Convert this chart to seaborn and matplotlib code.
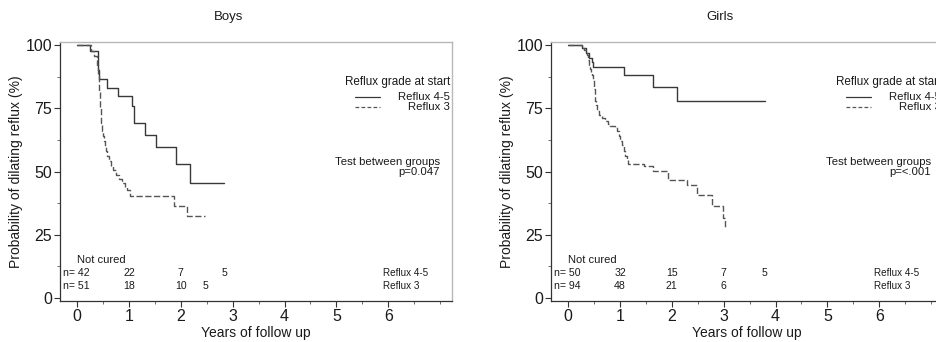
import numpy as np
import pandas as pd
import matplotlib
matplotlib.use("Agg")
import matplotlib.pyplot as plt
from matplotlib.ticker import MultipleLocator
import seaborn as sns

# ---------------- data ----------------
panels = ["Boys", "Girls"]
groups = ["Reflux 4-5", "Reflux 3"]

boys_45_t = [0, 0.24, 0.40, 0.42, 0.57, 0.79, 1.05, 1.09, 1.30, 1.53, 1.91, 2.18, 2.84]
boys_45_s = [100, 97.6, 90.0, 86.4, 83.1, 79.8, 75.9, 69.0, 64.6, 59.6, 52.8, 45.3, 45.3]
boys_3_t = [0, 0.27, 0.33, 0.38, 0.41, 0.42, 0.43, 0.44, 0.45, 0.46, 0.47, 0.48, 0.50,
            0.51, 0.53, 0.55, 0.58, 0.62, 0.66, 0.70, 0.75, 0.80, 0.86, 0.92, 0.97,
            1.02, 1.86, 2.11, 2.47]
boys_3_s = [100, 97.8, 95.8, 92, 88, 86, 82, 78, 75, 72, 69, 66, 64,
            62, 60, 58, 56, 54, 52, 50.5, 48.6, 47, 45.3, 44, 42.7,
            40.3, 36.4, 32.4, 32.4]

girls_45_t = [0, 0.27, 0.35, 0.41, 0.46, 0.48, 1.08, 1.63, 2.10, 3.80]
girls_45_s = [100, 98.9, 96.7, 94.7, 93.1, 91.2, 88.3, 83.4, 77.9, 77.9]
girls_3_t = [0, 0.27, 0.31, 0.34, 0.36, 0.38, 0.40, 0.42, 0.44, 0.46, 0.48, 0.49, 0.50,
             0.51, 0.52, 0.53, 0.55, 0.60, 0.65, 0.71, 0.76, 0.81, 0.90, 0.95, 0.98,
             1.00, 1.03, 1.07, 1.10, 1.13, 1.16, 1.46, 1.64, 1.92, 2.30, 2.48, 2.77,
             2.98, 3.02]
girls_3_s = [100, 99, 98, 97, 96, 94, 92, 90.7, 89, 88, 86, 84, 82.8,
             80, 78, 76.2, 74, 72.2, 71, 70, 68.9, 68, 67.5, 66.2, 64.2,
             62, 60.3, 58, 56.3, 54.5, 53, 52, 50.3, 46.8, 44.8, 40.7, 36.2,
             31.8, 27.4]

p_values = ["p=0.047", "p=<.001"]

# numbers at risk ("Not cured"): time, count
boys_risk_45_t = [1, 2, 2.84]
boys_risk_45_n = ["22", "7", "5"]
boys_risk_3_t = [1, 2, 2.47]
boys_risk_3_n = ["18", "10", "5"]
girls_risk_45_t = [1, 2, 3, 3.78]
girls_risk_45_n = ["32", "15", "7", "5"]
girls_risk_3_t = [1, 2, 3]
girls_risk_3_n = ["48", "21", "6"]
n_start = {"Boys": ("42", "51"), "Girls": ("50", "94")}

yticks = [0, 25, 50, 75, 100]
xticks = [0, 1, 2, 3, 4, 5, 6]

# ---------------- style ----------------
sns.set_style("white")
plt.rcParams["font.family"] = ["Liberation Sans", "DejaVu Sans"]

W, H = 937, 342
fig = plt.figure(figsize=(W / 100, H / 100), dpi=100)

ax_left_px = [60, 551]
ax_w_px, ax_top_px, ax_bot_px = 392, 42, 301

curves = {
    "Boys": [(boys_45_t, boys_45_s), (boys_3_t, boys_3_s)],
    "Girls": [(girls_45_t, girls_45_s), (girls_3_t, girls_3_s)],
}
risks = {
    "Boys": [(boys_risk_45_t, boys_risk_45_n), (boys_risk_3_t, boys_risk_3_n)],
    "Girls": [(girls_risk_45_t, girls_risk_45_n), (girls_risk_3_t, girls_risk_3_n)],
}

line_col = {"Reflux 4-5": "#383838", "Reflux 3": "#555555"}
txt_col = "#1a1a1a"

for i, panel in enumerate(panels):
    ax = fig.add_axes([ax_left_px[i] / W, (H - ax_bot_px) / H,
                       ax_w_px / W, (ax_bot_px - ax_top_px) / H])
    rows = []
    for g, (t, s) in zip(groups, curves[panel]):
        for tt, ss in zip(t, s):
            rows.append({"t": tt, "surv": ss, "group": g})
    df = pd.DataFrame(rows)
    sns.lineplot(data=df, x="t", y="surv", hue="group", style="group",
                 palette=line_col, dashes={"Reflux 4-5": "", "Reflux 3": (4.5, 1.8)},
                 drawstyle="steps-post", estimator=None, sort=False,
                 linewidth=1.0, legend=False, ax=ax)

    ax.set_xlim(-0.33, 7.23)
    ax.set_ylim(-1.2, 101.2)
    ax.set_xticks(xticks)
    ax.set_yticks(yticks)
    ax.xaxis.set_minor_locator(MultipleLocator(0.5))
    ax.yaxis.set_minor_locator(MultipleLocator(12.5))
    ax.tick_params(axis="both", which="major", direction="out", length=4, width=0.8,
                   colors="#333333", labelcolor=txt_col, labelsize=11.5,
                   bottom=True, left=True)
    ax.tick_params(axis="x", which="major", pad=2)
    ax.tick_params(axis="y", which="major", pad=1.5)
    ax.tick_params(axis="both", which="minor", direction="out", length=2, width=0.6,
                   colors="#555555", bottom=True, left=True)
    for sp in ["left", "bottom"]:
        ax.spines[sp].set_color("#333333")
        ax.spines[sp].set_linewidth(0.9)
    for sp in ["top", "right"]:
        ax.spines[sp].set_color("#b8b8b8")
        ax.spines[sp].set_linewidth(1.0)

    ax.set_xlabel("Years of follow up", fontsize=10, color=txt_col, labelpad=1)
    ax.set_ylabel("Probability of dilating reflux (%)", fontsize=10, color=txt_col,
                  labelpad=2)
    ax.text(0.43, 1.097, panel, transform=ax.transAxes, ha="center", va="center",
            fontsize=9.5, color=txt_col)

    # legend block
    ax.text(7.19, 85.4, "Reflux grade at start", ha="right", va="center",
            fontsize=8.4, color=txt_col)
    ax.plot([5.36, 5.85], [79.4, 79.4], color=line_col["Reflux 4-5"], lw=0.9)
    ax.plot([5.36, 5.85], [75.5, 75.5], color=line_col["Reflux 3"], lw=0.9,
            dashes=(3, 1.8))
    ax.text(7.19, 79.6, "Reflux 4-5", ha="right", va="center", fontsize=8.2,
            color=txt_col)
    ax.text(7.19, 75.6, "Reflux 3", ha="right", va="center", fontsize=8.2,
            color=txt_col)

    # test
    ax.text(7.0, 53.7, "Test between groups", ha="right", va="center",
            fontsize=8.2, color=txt_col)
    ax.text(7.0, 49.9, p_values[i], ha="right", va="center", fontsize=8.2,
            color=txt_col)

    # numbers at risk
    ax.text(0.0, 15.0, "Not cured", ha="left", va="center", fontsize=8,
            color=txt_col)
    ys = [9.9, 4.7]
    for k, ((rt, rn), y) in enumerate(zip(risks[panel], ys)):
        ax.text(-0.27, y, "n= " + n_start[panel][k], ha="left", va="center",
                fontsize=7.6, color=txt_col)
        for tt, nn in zip(rt, rn):
            ax.text(tt, y, nn, ha="center", va="center", fontsize=7.6,
                    color=txt_col)
        ax.text(5.9, y, groups[k], ha="left", va="center", fontsize=7.1,
                color=txt_col)

fig.savefig("out.png", dpi=100)
